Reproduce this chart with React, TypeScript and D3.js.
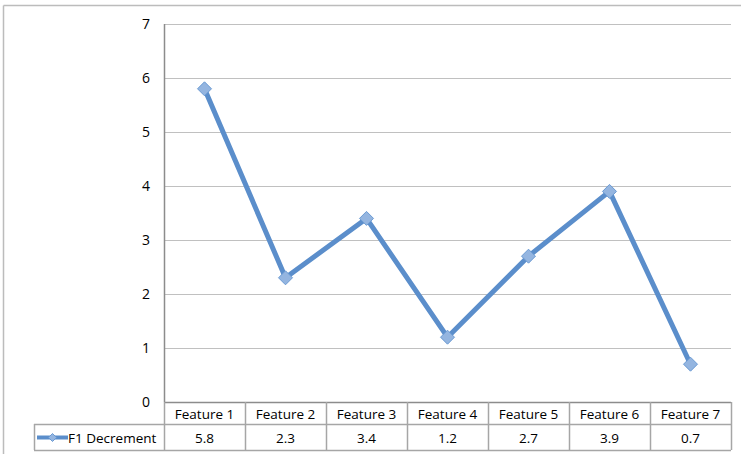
import React from "react";
import * as d3 from "d3";

const categories = ["Feature 1", "Feature 2", "Feature 3", "Feature 4", "Feature 5", "Feature 6", "Feature 7"];
const values = [5.8, 2.3, 3.4, 1.2, 2.7, 3.9, 0.7];
const seriesName = "F1 Decrement";
const yTicks = [0, 1, 2, 3, 4, 5, 6, 7];

const W = 741, H = 456;
const left = 164, right = 731, top = 24, bottom = 402;
const rowH1 = 22, rowH2 = 26;
const legendLeft = 34;
const FONT = "'Open Sans', 'Liberation Sans', sans-serif";

export default function App() {
  const x = d3.scaleBand<string>().domain(categories).range([left, right]);
  const y = d3.scaleLinear().domain([0, 7]).range([bottom, top]);
  const line = d3.line<number>()
    .x((_, i) => (x(categories[i]) as number) + x.bandwidth() / 2)
    .y((d) => y(d));
  const lineColor = "#5b8ecb";
  const markerFill = "#94b5e0";
  const markerStroke = "#6a9ad3";
  const gridColor = "#c0c0c0";
  const axisColor = "#8c8c8c";
  const tableColor = "#a6a6a6";
  const diamond = (cx: number, cy: number, r: number) =>
    `M${cx},${cy - r}L${cx + r},${cy}L${cx},${cy + r}L${cx - r},${cy}Z`;
  const headerTop = bottom;
  const headerBottom = bottom + rowH1;
  const dataBottom = headerBottom + rowH2;
  const bounds = categories.map((c) => x(c) as number).concat([right]);

  return (
    <svg width={W} height={H} style={{ position: "absolute", left: 0, top: 0, background: "#fff" }}>
      {/* outer border */}
      <line x1={3.5} y1={5.5} x2={741} y2={5.5} stroke="#bcbcbc" strokeWidth={1.5} />
      <line x1={3.5} y1={5.5} x2={3.5} y2={454} stroke="#bcbcbc" strokeWidth={1.5} />
      {/* gridlines */}
      {yTicks.filter((t) => t > 0).map((t) => (
        <line key={t} x1={left} x2={right} y1={y(t) + 0.5} y2={y(t) + 0.5} stroke={gridColor} strokeWidth={1} />
      ))}
      {/* y labels */}
      {yTicks.map((t) => (
        <text key={t} x={150} y={y(t)} dy="0.35em" textAnchor="end" fontFamily={FONT} fontSize={14} fill="#000">
          {t}
        </text>
      ))}
      {/* y axis */}
      <line x1={left + 0.5} x2={left + 0.5} y1={top} y2={bottom} stroke={axisColor} strokeWidth={1.5} />
      <line x1={left} x2={right} y1={bottom + 0.5} y2={bottom + 0.5} stroke={axisColor} strokeWidth={1.5} />
      {/* table */}
      <line x1={left} x2={right} y1={headerBottom + 0.5} y2={headerBottom + 0.5} stroke={tableColor} strokeWidth={1.5} />
      <line x1={legendLeft} x2={left} y1={headerBottom + 0.5} y2={headerBottom + 0.5} stroke={tableColor} strokeWidth={1.5} />
      <line x1={legendLeft} x2={right} y1={dataBottom + 0.5} y2={dataBottom + 0.5} stroke={tableColor} strokeWidth={1.5} />
      <line x1={legendLeft + 0.5} x2={legendLeft + 0.5} y1={headerBottom} y2={dataBottom} stroke={tableColor} strokeWidth={1.5} />
      {bounds.map((b, i) => (
        <line key={i} x1={b + 0.5} x2={b + 0.5} y1={headerTop} y2={dataBottom} stroke={tableColor} strokeWidth={1.5} />
      ))}
      {categories.map((c) => (
        <text key={c} x={(x(c) as number) + x.bandwidth() / 2} y={headerTop + rowH1 / 2 + 1} dy="0.35em" textAnchor="middle" fontFamily={FONT} fontSize={13.5} fill="#000">
          {c}
        </text>
      ))}
      {values.map((v, i) => (
        <text key={i} x={(x(categories[i]) as number) + x.bandwidth() / 2} y={headerBottom + rowH2 / 2 + 1} dy="0.35em" textAnchor="middle" fontFamily={FONT} fontSize={13.5} fill="#000">
          {v.toFixed(1)}
        </text>
      ))}
      {/* legend */}
      <line x1={37} x2={68} y1={headerBottom + rowH2 / 2 + 0.5} y2={headerBottom + rowH2 / 2 + 0.5} stroke={lineColor} strokeWidth={4} />
      <path d={diamond(52.5, headerBottom + rowH2 / 2 + 0.5, 4)} fill={markerFill} stroke={markerStroke} strokeWidth={1} />
      <text x={68} y={headerBottom + rowH2 / 2 + 1} dy="0.35em" fontFamily={FONT} fontSize={13.5} fill="#000">
        {seriesName}
      </text>
      {/* series */}
      <path d={line(values) || ""} fill="none" stroke={lineColor} strokeWidth={5} strokeLinejoin="round" />
      {values.map((v, i) => (
        <path key={i} d={diamond((x(categories[i]) as number) + x.bandwidth() / 2, y(v), 7)} fill={markerFill} stroke={markerStroke} strokeWidth={1} />
      ))}
    </svg>
  );
}
